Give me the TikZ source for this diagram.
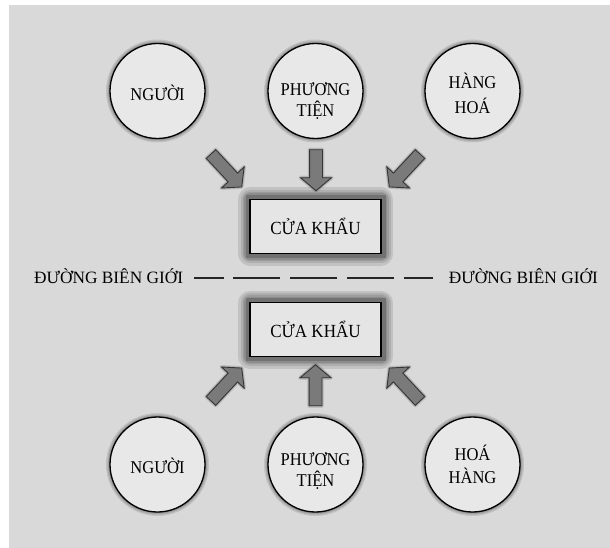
\documentclass[tikz,border=0pt]{standalone}
\usepackage{fontspec}
\setmainfont{Liberation Serif}
\newfontfamily\circfont[FakeStretch=0.92]{Liberation Serif}
\usetikzlibrary{shapes.arrows}
\definecolor{bg}{HTML}{D9D9D9}
\definecolor{circfill}{HTML}{E8E8E8}
\definecolor{boxfill}{HTML}{E5E5E5}
\definecolor{band}{HTML}{727272}
\definecolor{arrfill}{HTML}{7A7A7A}
\definecolor{arrline}{HTML}{353535}
\tikzset{
  halo/.style={preaction={draw=black, draw opacity=0.10, line width=#1, line join=round}},
  circnode/.style={circle, draw=black, line width=1.3pt, fill=circfill,
    minimum size=95pt, inner sep=0pt,
    halo=8pt, halo=5.5pt, halo=3.5pt, halo=2pt},
  circtext/.style={font=\circfont\fontsize{18}{20}\selectfont, inner sep=0pt, anchor=base},
  gatebox/.style={rectangle, draw=black, line width=1.4pt, fill=boxfill,
    minimum width=131pt, minimum height=54pt, inner sep=0pt,
    font=\circfont\fontsize{18.5}{20}\selectfont,
    halo=24pt, halo=19pt, halo=15pt, halo=12pt,
    preaction={draw=band, line width=9pt}},
  fatarrow/.style={single arrow, draw=arrline, fill=arrfill, line width=0.9pt,
    minimum width=30pt, single arrow head extend=9pt,
    single arrow tip angle=100, inner sep=6pt,
    halo=4pt, halo=2.5pt},
  borderlbl/.style={font=\fontsize{17.3}{20}\selectfont, inner sep=0pt},
  borderline/.style={line width=1.4pt, draw=black!85,
    dash pattern=on 30pt off 9pt on 47pt off 10pt on 47pt off 10pt on 47pt off 10pt on 30pt}
}
\begin{document}
\begin{tikzpicture}[x=1pt,y=-1pt]
\fill[white] (0,0) rectangle (610,548);
\fill[bg] (9,5) rectangle (610,548);
\useasboundingbox (0,0) rectangle (610,548);

% top circles
\node[circnode] (nguoiT) at (157.5,91) {};
\node[circnode] (ptT) at (315.5,91) {};
\node[circnode] (hhT) at (472.5,91) {};
\node[circtext] (nguoiTa) at (157.5,101) {NGƯỜI};
\node[circtext] (ptTa) at (315.5,95.5) {PHƯƠNG};
\node[circtext] (ptTb) at (315.5,117) {TIỆN};
\node[circtext] (hhTa) at (472.5,88.5) {HÀNG};
\node[circtext] (hhTb) at (472.5,113.5) {HOÁ};

% bottom circles
\node[circnode] (nguoiB) at (157.5,464.5) {};
\node[circnode] (ptB) at (315.5,464.5) {};
\node[circnode] (hhB) at (472.5,464.5) {};
\node[circtext] (nguoiBa) at (157.5,473.5) {NGƯỜI};
\node[circtext] (ptBa) at (315.5,465) {PHƯƠNG};
\node[circtext] (ptBb) at (315.5,486.5) {TIỆN};
\node[circtext] (hhBa) at (472.5,460) {HOÁ};
\node[circtext] (hhBb) at (472.5,483.5) {HÀNG};

% gates
\node[gatebox] (gateT) at (315.5,226.5) {CỬA KHẨU};
\node[gatebox] (gateB) at (315.5,329.5) {CỬA KHẨU};

% arrows
\node[fatarrow, minimum height=45pt, rotate=-47] (aTL) at (224.5,168.5) {};
\node[fatarrow, minimum height=41pt, rotate=-90] (aTM) at (316,167.5) {};
\node[fatarrow, minimum height=45pt, rotate=-133] (aTR) at (406.5,168.5) {};
\node[fatarrow, minimum height=45pt, rotate=47] (aBL) at (224.5,386.5) {};
\node[fatarrow, minimum height=41pt, rotate=90] (aBM) at (315.5,388) {};
\node[fatarrow, minimum height=45pt, rotate=133] (aBR) at (406.5,386.5) {};

% border line
\node[borderlbl, anchor=base west] (lblL) at (34,283.5) {ĐƯỜNG BIÊN GIỚI};
\node[borderlbl, anchor=base east] (lblR) at (598,283.5) {ĐƯỜNG BIÊN GIỚI};
\coordinate (dl) at (194,278);
\coordinate (dr) at (433,278);
\draw[borderline] (dl) -- (dr);
\end{tikzpicture}
\end{document}
